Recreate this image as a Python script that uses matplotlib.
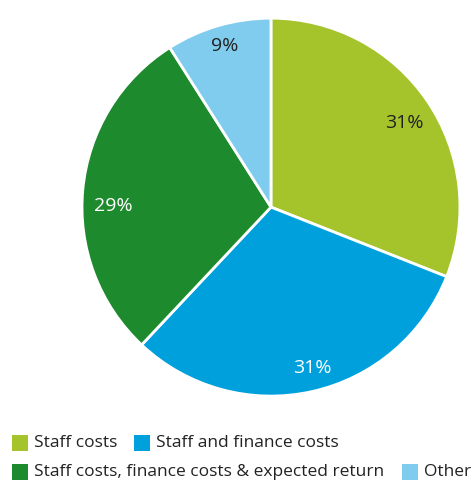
import numpy as np
import matplotlib.pyplot as plt
from matplotlib.patches import Rectangle

plt.rcParams['font.family'] = ['Open Sans', 'DejaVu Sans']

labels = ["Staff costs", "Staff and finance costs",
          "Staff costs, finance costs & expected return", "Other"]
shares = [31, 31, 29, 9]
colors = ["#a5c42c", "#00a0dc", "#1e8a2e", "#80ccef"]
pct_colors = ["#222222", "white", "white", "#222222"]
# per-label placement: radius fraction and angle nudge (degrees, clockwise)
pct_radius = [0.833, 0.880, 0.832, 0.887]
pct_nudge = [2.1, -1.8, -5.0, 0.3]

fig = plt.figure(figsize=(4.72, 4.82), dpi=100)
ax = fig.add_axes([0.1716, 0.1763, 0.805, 0.788])

wedges, texts = ax.pie(
    shares, colors=colors, startangle=90, counterclock=False,
    wedgeprops=dict(edgecolor="white", linewidth=2))

total = sum(shares)
start = 0.0
for val, c, r, nudge in zip(shares, pct_colors, pct_radius, pct_nudge):
    mid = start + val / total * 360 / 2 + nudge  # clockwise from top
    a = np.deg2rad(90 - mid)
    ax.text(r * np.cos(a), r * np.sin(a), f"{val}%", color=c, fontsize=14,
            ha="center", va="center")
    start += val / total * 360

ax.set_xlim(-1.005, 1.005)
ax.set_ylim(-1.005, 1.005)
ax.set_aspect("equal")

# legend drawn by hand: two rows, items placed at fixed x positions
W, H = 472, 482
rows = [[(0, 12), (1, 134)], [(2, 12), (3, 402)]]
row_y = [443, 472]
for row, y in zip(rows, row_y):
    for idx, x in row:
        fig.patches.append(Rectangle((x / W, 1 - (y + 8) / H), 16 / W, 16 / H,
                                     transform=fig.transFigure,
                                     facecolor=colors[idx], edgecolor="none"))
        fig.text((x + 22) / W, 1 - y / H, labels[idx], fontsize=12.5,
                 color="#222222", va="center", ha="left")

fig.savefig("out.png", dpi=100)
